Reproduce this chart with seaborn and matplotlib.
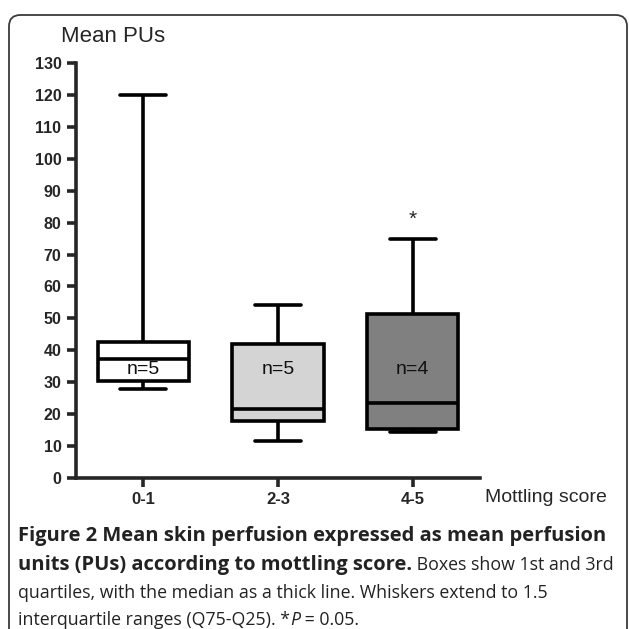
import pandas as pd
import matplotlib
matplotlib.use("Agg")
import matplotlib.pyplot as plt
import seaborn as sns
from matplotlib.patches import FancyBboxPatch

# ------------------------------------
# Data (five-number summaries)
# ------------------------------------
scores = ["0-1", "2-3", "4-5"]
pu_0_1 = [28, 30.3, 37.3, 42.6, 120]
pu_2_3 = [11.5, 17.7, 21.6, 42.1, 54.3]
pu_4_5 = [14.4, 15.4, 23.5, 51.5, 75]
n_labels = ["n=5", "n=5", "n=4"]
n_label_y = [34, 34, 34]
star_score = "4-5"
star_y = 81
box_colors = ["#ffffff", "#d4d4d4", "#808080"]
y_ticks = list(range(0, 131, 10))

df = pd.DataFrame({
    "score": [scores[0]] * len(pu_0_1) + [scores[1]] * len(pu_2_3) + [scores[2]] * len(pu_4_5),
    "pu": pu_0_1 + pu_2_3 + pu_4_5,
})

sns.set_style("ticks")
plt.rcParams["font.family"] = ["Liberation Sans", "DejaVu Sans"]

W = 629
fig = plt.figure(figsize=(6.29, 6.29), dpi=100)
ax = fig.add_axes([76 / W, 1 - 478 / W, 404 / W, 415 / W])

sns.boxplot(
    data=df,
    x="score",
    y="pu",
    hue="score",
    order=scores,
    palette=box_colors,
    legend=False,
    width=0.68,
    whis=(0, 100),
    showfliers=False,
    linewidth=2.6,
    linecolor="black",
    saturation=1,
    ax=ax,
)

for i, (label, y) in enumerate(zip(n_labels, n_label_y)):
    ax.text(i, y, label, ha="center", va="center", fontsize=14, color="#111111")

ax.text(scores.index(star_score), star_y, "*", ha="center", va="center", fontsize=15)

ax.set_xlim(-0.5, 2.5)
ax.set_ylim(0, 130)
ax.set_yticks(y_ticks)
ax.set_xlabel("")
ax.set_ylabel("")
sns.despine(ax=ax)
for side in ["left", "bottom"]:
    ax.spines[side].set_linewidth(2.6)
    ax.spines[side].set_capstyle("projecting")
ax.tick_params(axis="both", direction="out", length=6.5, width=2.6, pad=4)
ax.tick_params(axis="y", labelsize=11.5)
ax.tick_params(axis="x", labelsize=12, pad=3.5)
for lbl in ax.get_xticklabels() + ax.get_yticklabels():
    lbl.set_fontweight("bold")

fig.text(61 / W, 1 - 37 / W, "Mean PUs", ha="left", va="center", fontsize=16)
fig.text(485 / W, 1 - 497 / W, "Mottling score", ha="left", va="center", fontsize=14)

# ------------------------------------
# Rounded frame
# ------------------------------------
frame = FancyBboxPatch(
    (9 / W, -0.05), (627 - 9) / W, 1 - 15 / W + 0.05,
    boxstyle="round,pad=0,rounding_size=0.018",
    transform=fig.transFigure, fill=False, edgecolor="#3a3a3a", linewidth=1.3,
)
fig.patches.append(frame)

# ------------------------------------
# Caption with mixed styles
# ------------------------------------
renderer = fig.canvas.get_renderer()


def caption_line(y_px, parts, x_px=18):
    x = x_px
    for text, weight, style in parts:
        size = 14.5 if weight == "bold" else 12.8
        t = fig.text(x / W, 1 - y_px / W, text, ha="left", va="baseline",
                     fontsize=size, fontweight=weight, fontstyle=style,
                     family=["Open Sans", "DejaVu Sans"], color="#222222")
        x += t.get_window_extent(renderer=renderer).width


caption_line(541, [("Figure 2 Mean skin perfusion expressed as mean perfusion", "bold", "normal")])
caption_line(570, [("units (PUs) according to mottling score.", "bold", "normal"),
                   (" Boxes show 1st and 3rd", "normal", "normal")])
caption_line(598, [("quartiles, with the median as a thick line. Whiskers extend to 1.5", "normal", "normal")])
caption_line(625, [("interquartile ranges (Q75-Q25). *", "normal", "normal"),
                   ("P", "normal", "italic"),
                   (" = 0.05.", "normal", "normal")])

fig.savefig("out.png", dpi=100)
plt.close(fig)
